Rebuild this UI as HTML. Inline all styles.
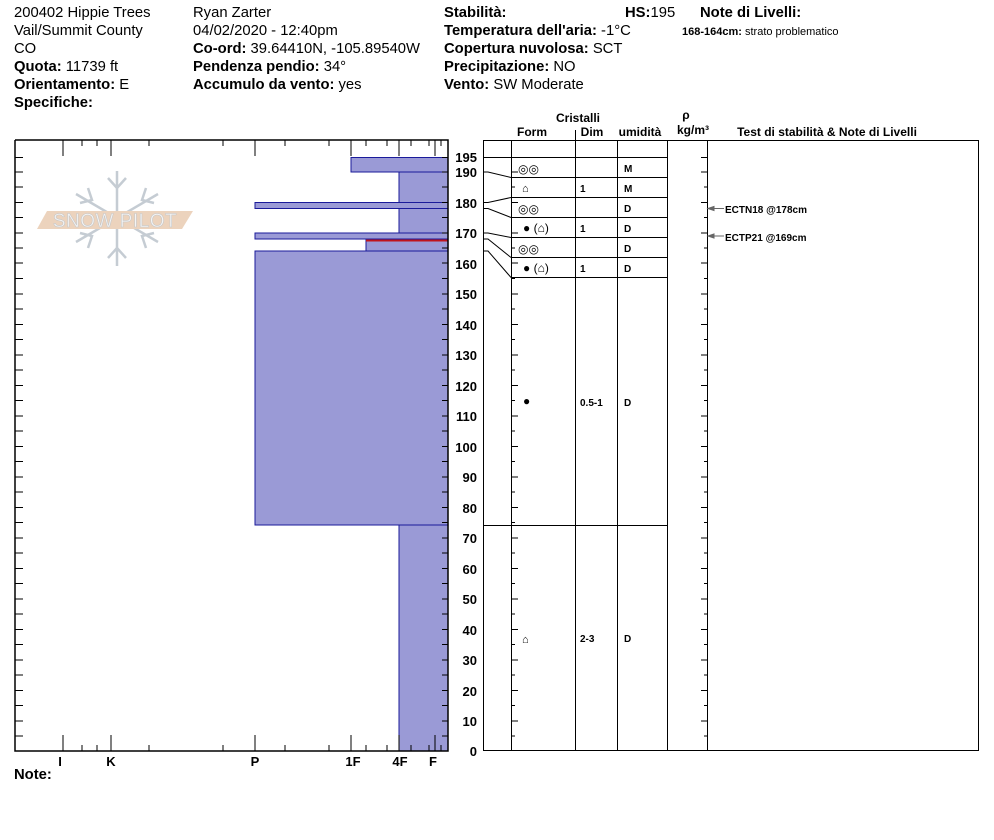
<!DOCTYPE html>
<html><head><meta charset="utf-8"><style>
body{margin:0;background:#fff;}
svg{display:block;font-family:"Liberation Sans",sans-serif;}
</style></head><body>
<svg width="994" height="840" xmlns="http://www.w3.org/2000/svg">
<g font-size="14.8" fill="#000">
<text x="14" y="17">200402 Hippie Trees</text>
<text x="14" y="35">Vail/Summit County</text>
<text x="14" y="53">CO</text>
<text x="14" y="71"><tspan font-weight="bold">Quota:</tspan>  11739 ft</text>
<text x="14" y="89"><tspan font-weight="bold">Orientamento:</tspan> E</text>
<text x="14" y="107" font-weight="bold">Specifiche:</text>
<text x="193" y="17">Ryan Zarter</text>
<text x="193" y="35">04/02/2020 - 12:40pm</text>
<text x="193" y="53"><tspan font-weight="bold">Co-ord:</tspan> 39.64410N, -105.89540W</text>
<text x="193" y="71"><tspan font-weight="bold">Pendenza pendio:</tspan> 34°</text>
<text x="193" y="89"><tspan font-weight="bold">Accumulo da vento:</tspan> yes</text>
<text x="444" y="17" font-weight="bold">Stabilità:</text>
<text x="444" y="35"><tspan font-weight="bold">Temperatura dell'aria:</tspan> -1°C</text>
<text x="444" y="53"><tspan font-weight="bold">Copertura nuvolosa:</tspan> SCT</text>
<text x="444" y="71"><tspan font-weight="bold">Precipitazione:</tspan> NO</text>
<text x="444" y="89"><tspan font-weight="bold">Vento:</tspan>  SW Moderate</text>
<text x="625" y="17"><tspan font-weight="bold">HS:</tspan>195</text>
<text x="700" y="17" font-weight="bold">Note di Livelli:</text>
<text x="682" y="35" font-size="11"><tspan font-weight="bold">168-164cm:</tspan> strato problematico</text>
<text x="14" y="779" font-weight="bold">Note:</text>
</g>
<!-- logo -->
<g stroke="#c5ccd3" stroke-width="2.5" fill="none">
<line x1="117" y1="171" x2="117" y2="266"/>
<line x1="76" y1="194" x2="158" y2="242"/>
<line x1="76" y1="242" x2="158" y2="194"/>
<path d="M108 178 L117 188 L126 178 M108 258 L117 248 L126 258 M80 203 L92 200 L88 188 M154 233 L142 236 L146 248 M80 233 L92 236 L88 248 M154 203 L142 200 L146 188"/>
</g>
<polygon points="47,211 193,211 182,229 37,229" fill="#ecd3bd"/>
<text x="115" y="227" font-size="19" fill="#f4f4f4" text-anchor="middle" stroke="#c8c8c8" stroke-width="0.6" letter-spacing="0.5">SNOW PILOT</text>
<!-- bars -->
<g fill="#9a9ad6" stroke="#1a1a9a" stroke-width="1">
<rect x="351" y="157.5" width="97" height="14.5"/>
<rect x="399" y="172" width="49" height="30.5"/>
<rect x="255" y="202.5" width="193" height="6"/>
<rect x="399" y="208.5" width="49" height="24.5"/>
<rect x="255" y="233" width="193" height="6"/>
<rect x="366" y="239" width="82" height="12"/>
<rect x="255" y="251" width="193" height="274"/>
<rect x="399" y="525" width="49" height="226"/>
</g>
<line x1="366" y1="240.5" x2="448" y2="240.5" stroke="#c0141c" stroke-width="2"/>
<!-- left plot axes -->
<g stroke="#000" stroke-width="1.5" fill="none">
<polyline points="15,140 448,140 448,751 15,751 15,140"/>
</g>
<g stroke="#000" stroke-width="1">
<path d="M15 157.5h8M15 172h8M15 187h8M15 202.5h8M15 217.5h8M15 233h8M15 248h8M15 263h8M15 278.5h8M15 294h8M15 309h8M15 324.5h8M15 339.5h8M15 355h8M15 370h8M15 385.5h8M15 400.5h8M15 416h8M15 431h8M15 446.5h8M15 461.5h8M15 477h8M15 492h8M15 507.5h8M15 522.5h8M15 538h8M15 553h8M15 568.5h8M15 583.5h8M15 599h8M15 614h8M15 629.5h8M15 644.5h8M15 660h8M15 675h8M15 690.5h8M15 705.5h8M15 721h8M15 736h8"/>
<path d="M63 140v16M111 140v16M255 140v16M351 140v16M399 140v16M435 140v16M82 140v6M97 140v6M149 140v6M223 140v6M285 140v6M329 140v6M366 140v6M387 140v6M411 140v6M429 140v6M441 140v6"/>
<path d="M63 751v-16M111 751v-16M255 751v-16M351 751v-16M399 751v-16M435 751v-16M82 751v-6M97 751v-6M149 751v-6M223 751v-6M285 751v-6M329 751v-6M366 751v-6M387 751v-6M411 751v-6M429 751v-6M441 751v-6"/>
<path d="M448 157.5h-6M448 172h-6M448 187h-6M448 202.5h-6M448 217.5h-6M448 233h-6M448 248h-6M448 263h-6M448 278.5h-6M448 294h-6M448 309h-6M448 324.5h-6M448 339.5h-6M448 355h-6M448 370h-6M448 385.5h-6M448 400.5h-6M448 416h-6M448 431h-6M448 446.5h-6M448 461.5h-6M448 477h-6M448 492h-6M448 507.5h-6M448 522.5h-6M448 538h-6M448 553h-6M448 568.5h-6M448 583.5h-6M448 599h-6M448 614h-6M448 629.5h-6M448 644.5h-6M448 660h-6M448 675h-6M448 690.5h-6M448 705.5h-6M448 721h-6M448 736h-6"/>
</g>
<g font-size="13" font-weight="bold" text-anchor="middle">
<text x="60" y="766">I</text><text x="111" y="766">K</text><text x="255" y="766">P</text><text x="353" y="766">1F</text><text x="400" y="766">4F</text><text x="433" y="766">F</text>
</g>
<g font-size="13" font-weight="bold" text-anchor="end">
<text x="477" y="162">195</text><text x="477" y="177">190</text><text x="477" y="208">180</text><text x="477" y="238">170</text><text x="477" y="269">160</text><text x="477" y="299">150</text><text x="477" y="330">140</text><text x="477" y="360">130</text><text x="477" y="391">120</text><text x="477" y="421">110</text><text x="477" y="452">100</text><text x="477" y="482">90</text><text x="477" y="513">80</text><text x="477" y="543">70</text><text x="477" y="574">60</text><text x="477" y="604">50</text><text x="477" y="635">40</text><text x="477" y="665">30</text><text x="477" y="696">20</text><text x="477" y="726">10</text><text x="477" y="756">0</text>
</g>
<!-- table -->
<g stroke="#000" stroke-width="1" fill="none">
<rect x="483.5" y="140.5" width="495" height="610"/>
<path d="M511.5 140v611M575.5 130v621M617.5 140v611M667.5 140v611M707.5 140v611"/>
<path d="M483 157.5h184M511 177.5h156M511 197.5h156M511 217.5h156M511 237.5h156M511 257.5h156M511 277.5h156M483 525.5h184"/>
<path d="M483 172h5L511 177.5M483 202.5h5L511 197.5M483 208.5h5L511 217.5M483 233h5L511 237.5M483 239h5L511 257.5M483 251h5L511 277.5"/>
<path d="M511 157.5h7M511 172h7M511 187h4M511 202.5h7M511 217.5h4M511 233h7M511 248h4M511 263h7M511 278.5h4M511 294h7M511 309h4M511 324.5h7M511 339.5h4M511 355h7M511 370h4M511 385.5h7M511 400.5h4M511 416h7M511 431h4M511 446.5h7M511 461.5h4M511 477h7M511 492h4M511 507.5h7M511 522.5h4M511 538h7M511 553h4M511 568.5h7M511 583.5h4M511 599h7M511 614h4M511 629.5h7M511 644.5h4M511 660h7M511 675h4M511 690.5h7M511 705.5h4M511 721h7M511 736h4"/>
<path d="M707 157.5h-6M707 172h-6M707 187h-3M707 202.5h-6M707 217.5h-3M707 233h-6M707 248h-3M707 263h-6M707 278.5h-3M707 294h-6M707 309h-3M707 324.5h-6M707 339.5h-3M707 355h-6M707 370h-3M707 385.5h-6M707 400.5h-3M707 416h-6M707 431h-3M707 446.5h-6M707 461.5h-3M707 477h-6M707 492h-3M707 507.5h-6M707 522.5h-3M707 538h-6M707 553h-3M707 568.5h-6M707 583.5h-3M707 599h-6M707 614h-3M707 629.5h-6M707 644.5h-3M707 660h-6M707 675h-3M707 690.5h-6M707 705.5h-3M707 721h-6M707 736h-3"/>
</g>
<g font-size="12" font-weight="bold" text-anchor="middle">
<text x="578" y="122">Cristalli</text>
<text x="532" y="136">Form</text><text x="592" y="136">Dim</text><text x="640" y="136">umidità</text>
<text x="686" y="119">ρ</text><text x="693" y="134">kg/m³</text>
<text x="827" y="136">Test di stabilità &amp; Note di Livelli</text>
</g>
<g font-size="12" fill="#000">
<text x="518" y="173">◎◎</text><text x="518" y="213">◎◎</text><text x="518" y="253">◎◎</text>
<text x="522" y="192" font-size="11">⌂</text>
<text x="523" y="232">● (⌂)</text><text x="523" y="272">● (⌂)</text>
<text x="523" y="405">●</text>
<text x="522" y="643" font-size="11">⌂</text>
</g>
<g font-size="10" font-weight="bold">
<text x="580" y="192">1</text><text x="580" y="232">1</text><text x="580" y="272">1</text>
<text x="580" y="406">0.5-1</text><text x="580" y="642">2-3</text>
<text x="624" y="172">M</text><text x="624" y="192">M</text><text x="624" y="212">D</text><text x="624" y="232">D</text><text x="624" y="252">D</text><text x="624" y="272">D</text><text x="624" y="406">D</text><text x="624" y="642">D</text>
<text x="725" y="213">ECTN18 @178cm</text><text x="725" y="241">ECTP21 @169cm</text>
</g>
<g stroke="#666" stroke-width="1" fill="#666">
<line x1="710" y1="208.5" x2="724" y2="208.5"/><polygon points="708,208.5 714,206.5 714,210.5"/>
<line x1="710" y1="236" x2="724" y2="236"/><polygon points="708,236 714,234 714,238"/>
</g>
</svg>
</body></html>
